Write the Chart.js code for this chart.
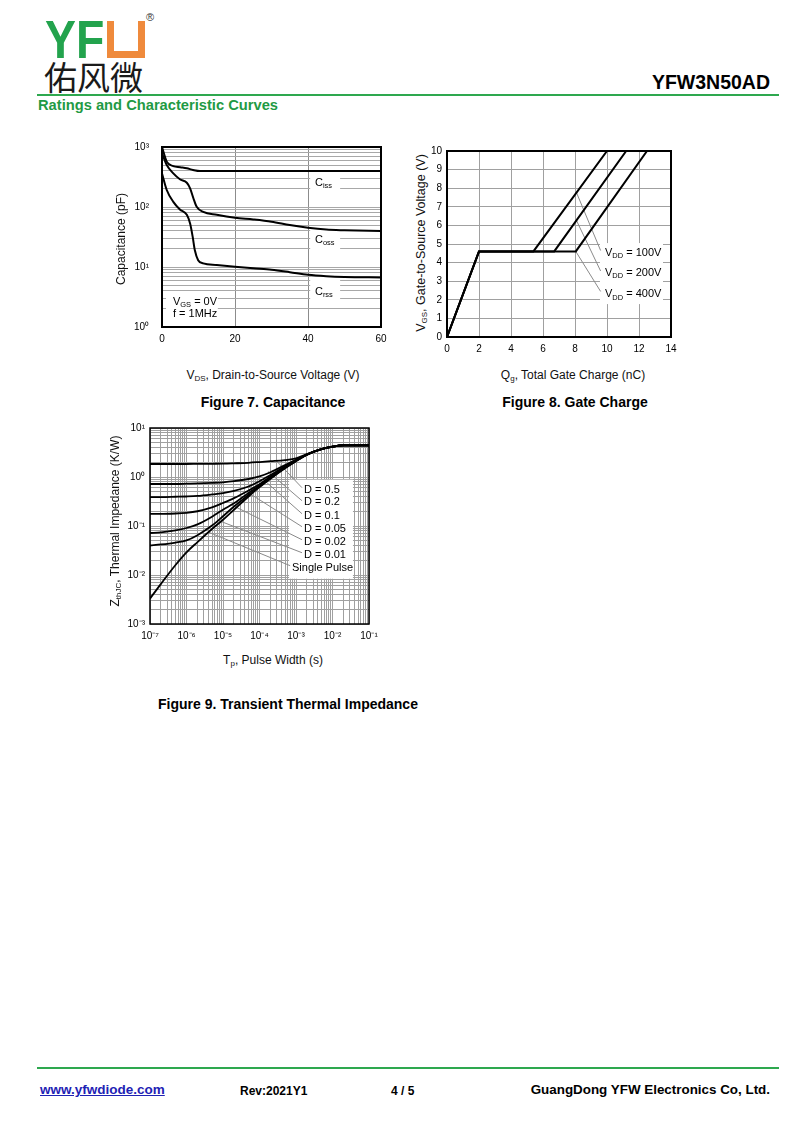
<!DOCTYPE html>
<html><head><meta charset="utf-8">
<script src="https://cdn.jsdelivr.net/npm/chart.js@4.4.1/dist/chart.umd.min.js"></script>
<style>
html,body{margin:0;padding:0;background:#fff;}
body{width:800px;height:1131px;position:relative;overflow:hidden;font-family:'Liberation Sans',Arial,Helvetica,sans-serif;color:#000;}
.abs{position:absolute;white-space:nowrap;line-height:1;}
canvas{position:absolute;}
.ttl{position:absolute;white-space:nowrap;font-size:12px;line-height:1;color:#111;transform:translate(-50%,-50%);}
.rot{transform:translate(-50%,-50%) rotate(-90deg);}
.ttl sub{font-size:8px;vertical-align:-2px;line-height:0;}
.cap{position:absolute;font-weight:bold;font-size:14px;line-height:1;transform:translate(-50%,-50%);white-space:nowrap;}
</style></head><body>

<!-- header -->
<div class="abs" style="left:45px;top:13px;font-size:53px;font-weight:bold;color:#23a34d;transform-origin:left top;transform:scaleX(0.875);">YF</div>
<div class="abs" style="left:107px;top:21px;width:38px;height:37px;background:#ef8a3c;"></div>
<div class="abs" style="left:114px;top:21px;width:24px;height:30px;background:#fff;"></div>
<div class="abs" style="left:146px;top:12px;font-size:11px;color:#333;">®</div>
<div class="abs" style="left:44px;top:60px;font-size:33px;font-family:'Noto Sans CJK SC';color:#1a1a1a;">佑风微</div>
<div class="abs" style="right:30px;top:73px;font-size:19.5px;font-weight:bold;">YFW3N50AD</div>
<div class="abs" style="left:37px;top:94px;width:742px;height:2px;background:#2ea84f;"></div>
<div class="abs" style="left:38px;top:98px;font-size:14.7px;font-weight:bold;color:#1f9a44;">Ratings and Characteristic Curves</div>

<!-- charts -->
<canvas id="c1" width="300" height="222" style="left:100px;top:128px;width:300px;height:222px"></canvas>
<canvas id="c2" width="260" height="230" style="left:430px;top:135px;width:260px;height:230px"></canvas>
<canvas id="c3" width="290" height="235" style="left:100px;top:415px;width:290px;height:235px"></canvas>

<!-- axis titles -->
<div class="ttl" style="left:273px;top:375px;">V<sub>DS</sub>, Drain-to-Source Voltage (V)</div>
<div class="ttl rot" style="left:121px;top:239px;">Capacitance (pF)</div>
<div class="ttl" style="left:573px;top:375px;">Q<sub>g</sub>, Total Gate Charge (nC)</div>
<div class="ttl rot" style="left:421px;top:243px;font-size:12.5px;">V<sub>GS</sub>, Gate-to-Source Voltage (V)</div>
<div class="ttl" style="left:273px;top:660px;">T<sub>p</sub>, Pulse Width (s)</div>
<div class="ttl rot" style="left:115px;top:521px;">Z<sub>thJC</sub>, Thermal Impedance (K/W)</div>

<div class="cap" style="left:273px;top:402px;">Figure 7. Capacitance</div>
<div class="cap" style="left:575px;top:402px;">Figure 8. Gate Charge</div>
<div class="cap" style="left:288px;top:704px;">Figure 9. Transient Thermal Impedance</div>

<!-- footer -->
<div class="abs" style="left:37px;top:1067px;width:742px;height:2px;background:#2ea84f;"></div>
<div class="abs" style="left:40px;top:1083px;font-size:13.5px;font-weight:bold;color:#1e22b4;text-decoration:underline;">www.yfwdiode.com</div>
<div class="abs" style="left:240px;top:1085px;font-size:12px;font-weight:bold;">Rev:2021Y1</div>
<div class="abs" style="left:391px;top:1085px;font-size:12px;font-weight:bold;">4 / 5</div>
<div class="abs" style="right:30px;top:1083px;font-size:13.4px;font-weight:bold;">GuangDong YFW Electronics Co, Ltd.</div>

<script>
// ================= DATA =================
// Figure 7 - Capacitance vs VDS
const cissV = [0, 1.3, 3.1, 5, 6.8, 8.5, 10.4, 20, 30, 40, 50, 60];
const cissC = [1000, 570, 480, 460, 442, 415, 398, 398, 398, 398, 398, 398];
const cossV = [0, 1.3, 3.1, 4.9, 6.8, 7.7, 8.6, 9.5, 11.3, 15, 20, 25, 30, 35, 40, 45, 50, 60];
const cossC = [785, 500, 363, 290, 254, 205, 140, 101, 83, 74, 66, 62, 57, 50, 45, 42, 41, 40];
const crssV = [0, 1.3, 3.1, 4.9, 6.8, 7.7, 8.4, 9.0, 9.9, 11.3, 15, 20, 25, 30, 35, 40, 45, 50, 60];
const crssC = [363, 192, 122, 91, 74, 53, 32, 19, 13, 11.5, 10.8, 10.1, 9.5, 9.0, 8.2, 7.4, 7.0, 6.8, 6.7];
const capXTicks = [0, 20, 40, 60];
const capYDecades = [0, 1, 2, 3];

// Figure 8 - Gate charge
const qg100 = [0, 2, 5.4, 10.0];
const qg200 = [0, 2, 6.7, 11.2];
const qg400 = [0, 2, 8.05, 12.5];
const vgsGC = [0, 4.6, 4.6, 10];
const gcXTicks = [0, 2, 4, 6, 8, 10, 12, 14];
const gcYTicks = [0, 1, 2, 3, 4, 5, 6, 7, 8, 9, 10];

// Figure 9 - Transient thermal impedance
const tp = [1e-7, 2e-7, 5e-7, 1e-6, 2e-6, 5e-6, 1e-5, 2e-5, 5e-5, 1e-4, 2e-4, 5e-4, 1e-3, 2e-3, 5e-3, 1e-2, 2e-2, 5e-2, 1e-1];
const zD05  = [1.84, 1.84, 1.84, 1.84, 1.85, 1.86, 1.87, 1.9, 1.95, 2.02, 2.1, 2.22, 2.4, 2.95, 3.72, 4.15, 4.45, 4.45, 4.4];
const zD02  = [0.72, 0.72, 0.72, 0.73, 0.74, 0.76, 0.78, 0.82, 0.91, 1.03, 1.25, 1.75, 2.25, 2.9, 3.7, 4.15, 4.45, 4.45, 4.4];
const zD01  = [0.39, 0.39, 0.395, 0.40, 0.41, 0.44, 0.47, 0.52, 0.64, 0.82, 1.1, 1.65, 2.2, 2.88, 3.7, 4.15, 4.45, 4.45, 4.4];
const zD005 = [0.176, 0.177, 0.180, 0.186, 0.20, 0.24, 0.295, 0.37, 0.53, 0.71, 1.02, 1.6, 2.17, 2.87, 3.7, 4.15, 4.45, 4.45, 4.4];
const zD002 = [0.072, 0.074, 0.081, 0.091, 0.108, 0.155, 0.215, 0.29, 0.47, 0.67, 0.97, 1.55, 2.14, 2.86, 3.7, 4.15, 4.45, 4.45, 4.4];
const zD001 = [0.040, 0.042, 0.046, 0.051, 0.065, 0.102, 0.158, 0.25, 0.43, 0.64, 0.94, 1.52, 2.12, 2.85, 3.7, 4.15, 4.45, 4.45, 4.4];
const zSingle = [0.0033, 0.0066, 0.016, 0.029, 0.047, 0.087, 0.134, 0.215, 0.40, 0.62, 0.92, 1.5, 2.1, 2.85, 3.7, 4.15, 4.45, 4.45, 4.4];
const tpDecades = [-7, -6, -5, -4, -3, -2, -1];
const zDecades = [-3, -2, -1, 0, 1];

// ================= HELPERS =================
const FONT = "'Liberation Sans', Arial, Helvetica, sans-serif";
Chart.defaults.font.family = FONT;
Chart.defaults.color = '#000';
const SUP = {'-':'\u207B','0':'\u2070','1':'\u00B9','2':'\u00B2','3':'\u00B3','4':'\u2074','5':'\u2075','6':'\u2076','7':'\u2077','8':'\u2078','9':'\u2079'};

function pts(xs, ys) { return xs.map((x, i) => ({x: x, y: ys[i]})); }
function logTicks(decades) {
  const out = [];
  for (let i = 0; i < decades.length - 1; i++)
    for (let k = 1; k <= 9; k++) out.push(Number((k * Math.pow(10, decades[i])).toPrecision(10)));
  out.push(Number(Math.pow(10, decades[decades.length - 1]).toPrecision(10)));
  return out;
}
function isDecade(v) { const l = Math.log10(v); return Math.abs(l - Math.round(l)) < 1e-6; }
function supLabel(v) {
  if (!isDecade(v)) return '';
  const e = Math.round(Math.log10(v));
  return '10' + String(e).split('').map(c => SUP[c]).join('');
}
function curve(xs, ys, w, smooth) {
  return { data: pts(xs, ys), borderColor: '#000', borderWidth: w, pointRadius: 0, showLine: true, fill: false,
           cubicInterpolationMode: smooth ? 'monotone' : 'default', tension: 0 };
}
function drawRich(ctx, parts, x, y, size) {
  let cx = x;
  ctx.textBaseline = 'middle'; ctx.textAlign = 'left'; ctx.fillStyle = '#000';
  parts.forEach(p => {
    const sub = p[1];
    ctx.font = (sub ? size * 0.68 : size) + 'px ' + FONT;
    ctx.fillText(p[0], cx, sub ? y + size * 0.3 : y);
    cx += ctx.measureText(p[0]).width;
  });
}

const framePlugin = {
  id: 'frame',
  afterDraw(chart, args, o) {
    const a = chart.chartArea, c = chart.ctx;
    c.save(); c.strokeStyle = '#000'; c.lineWidth = o.width || 2;
    c.strokeRect(a.left, a.top, a.right - a.left, a.bottom - a.top);
    c.restore();
  }
};
const annotPlugin = {
  id: 'annot',
  beforeDatasetsDraw(chart, args, o) {
    const c = chart.ctx, X = chart.scales.x, Y = chart.scales.y;
    c.save();
    (o.boxes || []).forEach(b => {
      const x1 = X.getPixelForValue(b[0]), x2 = X.getPixelForValue(b[1]);
      const y1 = Y.getPixelForValue(b[2]), y2 = Y.getPixelForValue(b[3]);
      c.fillStyle = '#fff';
      c.fillRect(Math.min(x1, x2), Math.min(y1, y2), Math.abs(x2 - x1), Math.abs(y2 - y1));
    });
    (o.leaders || []).forEach(l => {
      c.strokeStyle = '#8a8a8a'; c.lineWidth = 1;
      c.beginPath();
      c.moveTo(X.getPixelForValue(l[0]), Y.getPixelForValue(l[1]));
      c.lineTo(X.getPixelForValue(l[2]), Y.getPixelForValue(l[3]));
      c.stroke();
    });
    (o.labels || []).forEach(l => drawRich(c, l.parts, X.getPixelForValue(l.x), Y.getPixelForValue(l.y), l.size || 11));
    c.restore();
  }
};

function baseOpts(pad) {
  return { responsive: false, animation: false, devicePixelRatio: 1,
           layout: { padding: pad },
           plugins: { legend: { display: false }, tooltip: { enabled: false } } };
}

// ================= FIGURE 7 =================
(function () {
  const o = baseOpts({ top: 19, right: 19, left: 0, bottom: 0 });
  o.scales = {
    x: { type: 'linear', min: 0, max: 60,
         afterBuildTicks: s => { s.ticks = capXTicks.map(v => ({ value: v })); },
         afterFit: s => { s.height = 23; },
         ticks: { font: { size: 10 }, padding: 6, maxRotation: 0, autoSkip: false },
         grid: { drawTicks: false, color: '#8c8c8c', lineWidth: 1 }, border: { display: false } },
    y: { type: 'logarithmic', min: 1, max: 1000,
         afterBuildTicks: s => { s.ticks = logTicks(capYDecades).map(v => ({ value: v })); },
         afterFit: s => { s.width = 62; },
         ticks: { font: { size: 10 }, padding: 13, autoSkip: false, callback: v => supLabel(v) },
         grid: { drawTicks: false, color: '#a8a8a8', lineWidth: 1 }, border: { display: false } }
  };
  o.plugins.frame = { width: 2 };
  o.plugins.annot = {
    boxes: [[40.6, 48.8, 380, 158], [40.6, 48.8, 43, 17.8], [40.6, 48.8, 6.1, 2.42], [1.1, 15.3, 3.83, 1.21]],
    labels: [
      { x: 41.9, y: 251, parts: [['C'], ['iss', 1]] },
      { x: 41.9, y: 28.2, parts: [['C'], ['oss', 1]] },
      { x: 41.9, y: 3.83, parts: [['C'], ['rss', 1]] },
      { x: 3.0, y: 2.61, parts: [['V'], ['GS', 1], [' = 0V']] },
      { x: 3.0, y: 1.65, parts: [['f = 1MHz']] }
    ]
  };
  new Chart(document.getElementById('c1'), {
    type: 'scatter',
    data: { datasets: [curve(cissV, cissC, 2, true), curve(cossV, cossC, 2, true), curve(crssV, crssC, 2, true)] },
    options: o, plugins: [framePlugin, annotPlugin]
  });
})();

// ================= FIGURE 8 =================
(function () {
  const o = baseOpts({ top: 16, right: 19, left: 0, bottom: 0 });
  o.scales = {
    x: { type: 'linear', min: 0, max: 14,
         afterBuildTicks: s => { s.ticks = gcXTicks.map(v => ({ value: v })); },
         afterFit: s => { s.height = 28; },
         ticks: { font: { size: 10 }, padding: 6, maxRotation: 0, autoSkip: false },
         grid: { drawTicks: false, color: '#a0a0a0', lineWidth: 1 }, border: { display: false } },
    y: { type: 'linear', min: 0, max: 10,
         afterBuildTicks: s => { s.ticks = gcYTicks.map(v => ({ value: v })); },
         afterFit: s => { s.width = 17; },
         ticks: { font: { size: 10 }, padding: 5, autoSkip: false },
         grid: { drawTicks: false, color: '#a0a0a0', lineWidth: 1 }, border: { display: false } }
  };
  o.plugins.frame = { width: 2 };
  o.plugins.annot = {
    boxes: [[9.56, 13.5, 5.05, 1.77]],
    leaders: [[8.1, 7.75, 9.6, 4.65], [8.1, 6.25, 9.6, 3.55], [8.05, 4.6, 9.6, 2.45]],
    labels: [
      { x: 9.875, y: 4.52, parts: [['V'], ['DD', 1], [' = 100V']] },
      { x: 9.875, y: 3.46, parts: [['V'], ['DD', 1], [' = 200V']] },
      { x: 9.875, y: 2.30, parts: [['V'], ['DD', 1], [' = 400V']] }
    ]
  };
  new Chart(document.getElementById('c2'), {
    type: 'scatter',
    data: { datasets: [curve(qg100, vgsGC, 2, false), curve(qg200, vgsGC, 2, false), curve(qg400, vgsGC, 2, false)] },
    options: o, plugins: [framePlugin, annotPlugin]
  });
})();

// ================= FIGURE 9 =================
(function () {
  const o = baseOpts({ top: 13, right: 21, left: 0, bottom: 0 });
  o.scales = {
    x: { type: 'logarithmic', min: 1e-7, max: 1e-1,
         afterBuildTicks: s => { s.ticks = logTicks(tpDecades).map(v => ({ value: v })); },
         afterFit: s => { s.height = 26; },
         ticks: { font: { size: 10 }, padding: 6, maxRotation: 0, autoSkip: false, callback: v => supLabel(v) },
         grid: { drawTicks: false, color: '#a0a0a0', lineWidth: 1 }, border: { display: false } },
    y: { type: 'logarithmic', min: 1e-3, max: 10,
         afterBuildTicks: s => { s.ticks = logTicks(zDecades).map(v => ({ value: v })); },
         afterFit: s => { s.width = 50; },
         ticks: { font: { size: 10 }, padding: 5, autoSkip: false, callback: v => supLabel(v) },
         grid: { drawTicks: false, color: '#a0a0a0', lineWidth: 1 }, border: { display: false } }
  };
  o.plugins.frame = { width: 1.5 };
  o.plugins.annot = {
    boxes: [[6.45e-4, 0.0363, 0.88, 0.0084]],
    leaders: [
      [2.8e-4, 2.2, 1.46e-3, 0.605],
      [1.7e-4, 1.3, 1.46e-3, 0.328],
      [1.25e-4, 0.9, 1.46e-3, 0.178],
      [4.5e-5, 0.5, 1.46e-3, 0.0968],
      [1.7e-5, 0.27, 1.46e-3, 0.0525],
      [7.4e-6, 0.13, 1.46e-3, 0.0285],
      [4e-6, 0.075, 6.9e-4, 0.0155]
    ],
    labels: [
      { x: 1.66e-3, y: 0.55, parts: [['D = 0.5']] },
      { x: 1.66e-3, y: 0.303, parts: [['D = 0.2']] },
      { x: 1.66e-3, y: 0.162, parts: [['D = 0.1']] },
      { x: 1.66e-3, y: 0.087, parts: [['D = 0.05']] },
      { x: 1.66e-3, y: 0.0462, parts: [['D = 0.02']] },
      { x: 1.66e-3, y: 0.0251, parts: [['D = 0.01']] },
      { x: 7.76e-4, y: 0.0139, parts: [['Single Pulse']] }
    ]
  };
  new Chart(document.getElementById('c3'), {
    type: 'scatter',
    data: { datasets: [
      curve(tp, zD05, 1.8, true), curve(tp, zD02, 1.8, true), curve(tp, zD01, 1.8, true),
      curve(tp, zD005, 1.8, true), curve(tp, zD002, 1.8, true), curve(tp, zD001, 1.8, true),
      curve(tp, zSingle, 1.8, true)] },
    options: o, plugins: [framePlugin, annotPlugin]
  });
})();
</script>
</body></html>
